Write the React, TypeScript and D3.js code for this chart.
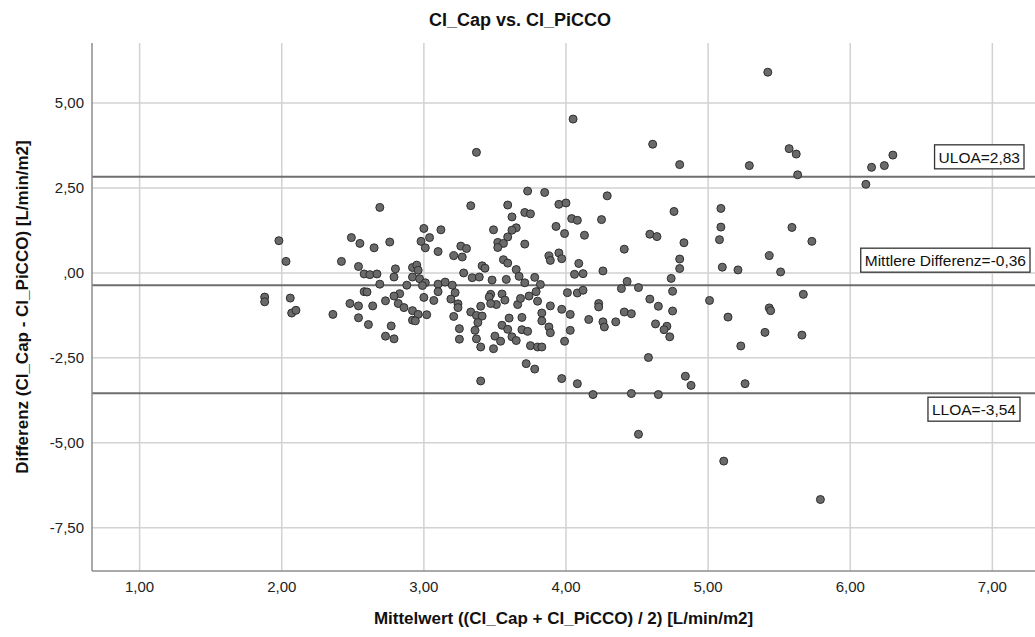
import { useEffect, useRef } from "react";
import * as d3 from "d3";

// Bland-Altman: Mittelwert (x) und Differenz (y)
const meanValues = [
  1.98, 2.03, 2.42, 1.88, 1.88, 2.06, 2.07, 2.10, 2.36,
  3.37, 2.69, 3.33, 3.73, 3.85, 3.59, 3.95, 4.00, 3.62, 3.71, 3.75, 4.04, 4.08, 3.65, 3.62, 3.93,
  3.99, 3.49, 3.59, 3.52, 3.56, 3.52, 3.71, 3.00, 3.12, 3.04, 2.98, 3.01, 3.10, 2.49, 2.55, 2.65,
  2.76, 2.54, 2.58, 2.62, 2.67, 2.69, 2.80, 2.79, 2.92, 2.95, 2.96, 2.92, 2.97, 3.01, 2.99, 2.88,
  3.26, 3.30, 3.21, 3.27, 3.41, 3.43, 3.28, 3.34, 3.39, 3.48, 3.58, 3.56, 3.59, 3.65, 3.67, 3.71,
  3.78, 3.82, 3.88, 3.89, 3.95, 3.97, 4.06, 4.08, 4.01, 4.09, 3.10, 3.15, 3.20, 3.10, 3.22, 3.19,
  3.07, 3.00, 3.24, 3.24, 3.21, 2.83, 2.79, 2.73, 2.82, 2.86, 2.92, 2.96, 3.02, 2.92, 2.94, 2.58,
  2.60, 2.48, 2.54, 2.64, 2.54, 2.61, 2.77, 2.73, 2.79, 3.40, 3.47, 3.46, 3.55, 3.57, 3.51, 3.47,
  3.66, 3.68, 3.74, 3.79, 3.80, 3.33, 3.37, 3.41, 3.38, 3.36, 3.37, 3.40, 3.25, 3.25, 3.49, 3.50,
  3.54, 3.55, 3.60, 3.69, 3.59, 3.62, 3.65, 3.69, 3.73, 3.75, 3.80, 3.83, 3.83, 3.83, 3.88, 3.89,
  3.89, 3.97, 4.03, 4.03, 3.99, 3.72, 3.78, 3.40, 3.97, 4.08,
  5.42, 4.05, 4.61, 4.80, 5.29, 5.57, 5.62, 5.63, 4.29, 4.25, 4.76, 4.13, 4.59, 4.64, 4.83, 5.09,
  5.09, 5.08, 5.59, 5.73, 5.43, 5.51, 5.21, 5.10, 4.41, 4.26, 4.12, 4.80, 4.80, 4.74, 4.43, 4.39,
  4.51, 4.75, 4.12, 4.59, 4.65, 5.01, 5.14, 5.67, 5.43, 5.44, 4.23, 4.23, 4.16, 4.26, 4.27, 4.35,
  4.41, 4.46, 4.63, 4.71, 4.69, 4.73, 4.75, 5.40, 5.66, 5.23, 4.58, 4.19, 4.46, 4.65, 4.84, 4.88,
  5.26, 4.51, 5.11, 5.79, 6.11, 6.15, 6.24, 6.30,
];

const diffValues = [
  0.95, 0.34, 0.34, -0.71, -0.85, -0.74, -1.18, -1.10, -1.22,
  3.55, 1.93, 1.98, 2.41, 2.37, 2.00, 2.02, 2.06, 1.65, 1.78, 1.74, 1.60, 1.55, 1.33, 1.26, 1.37,
  1.16, 1.27, 1.06, 0.90, 0.87, 0.75, 0.85, 1.31, 1.27, 1.04, 0.93, 0.74, 0.63, 1.04, 0.87, 0.74,
  0.91, 0.19, -0.03, -0.05, -0.03, -0.33, 0.12, -0.12, 0.16, 0.23, 0.08, -0.12, -0.17, -0.29, -0.37, -0.36,
  0.79, 0.72, 0.51, 0.47, 0.21, 0.14, 0.00, -0.14, -0.12, -0.21, -0.19, 0.39, 0.29, 0.10, -0.10, -0.29,
  -0.13, -0.34, 0.50, 0.37, 0.59, 0.42, -0.04, -0.59, -0.58, 0.28, -0.33, -0.27, -0.36, -0.55, -0.58, -0.77,
  -0.81, -0.72, -0.91, -1.02, -1.28, -0.61, -0.68, -0.82, -0.90, -1.02, -1.11, -1.22, -1.23, -1.39, -1.41, -0.55,
  -0.56, -0.90, -0.97, -0.97, -1.32, -1.52, -1.56, -1.86, -1.94, -0.98, -0.63, -0.71, -0.62, -0.80, -0.93, -0.90,
  -0.93, -0.75, -0.68, -0.55, -0.83, -1.15, -1.25, -1.27, -1.46, -1.69, -1.94, -2.18, -1.64, -1.95, -2.23, -1.86,
  -2.01, -1.54, -1.33, -1.31, -1.66, -1.88, -1.99, -1.67, -1.72, -2.14, -2.18, -2.18, -1.18, -1.41, -1.59, -1.76,
  -0.97, -1.07, -1.22, -1.69, -2.01, -2.67, -2.83, -3.18, -3.11, -3.26,
  5.91, 4.53, 3.79, 3.19, 3.16, 3.66, 3.50, 2.89, 2.27, 1.57, 1.81, 1.11, 1.14, 1.07, 0.89, 1.90,
  1.35, 0.98, 1.34, 0.93, 0.51, 0.03, 0.09, 0.17, 0.70, 0.06, -0.02, 0.41, 0.13, -0.16, -0.25, -0.46,
  -0.43, -0.54, -0.51, -0.77, -0.98, -0.81, -1.30, -0.63, -1.03, -1.11, -0.90, -1.00, -1.37, -1.44, -1.59, -1.44,
  -1.15, -1.20, -1.50, -1.57, -1.67, -1.88, -1.12, -1.75, -1.83, -2.15, -2.49, -3.58, -3.55, -3.58, -3.04, -3.31,
  -3.26, -4.75, -5.54, -6.67, 2.61, 3.11, 3.16, 3.47,
];

const xTicks = [1, 2, 3, 4, 5, 6, 7];
const yTicks = [5, 2.5, 0, -2.5, -5, -7.5];

const refNames = ["ULOA=2,83", "Mittlere Differenz=-0,36", "LLOA=-3,54"];
const refValues = [2.83, -0.36, -3.54];

const FONT = "'Liberation Sans', Arial, sans-serif";

// SPSS-Stil: 2 Nachkommastellen, Komma, ",00" ohne fuehrende Null
const fmt = (v) => {
  const s = v.toFixed(2).replace(".", ",");
  return s === "0,00" ? ",00" : s;
};

export default function App() {
  const svgRef = useRef(null);

  useEffect(() => {
    document.body.style.margin = "0";
    const width = 1035;
    const height = 637;
    const svg = d3.select(svgRef.current);
    svg.selectAll("*").remove();
    svg.attr("width", width).attr("height", height);

    const left = 92;
    const right = 1035;
    const top = 43;
    const bottom = 571;

    const x = d3.scaleLinear().domain([0.665, 7.3]).range([left, right]);
    const y = d3.scaleLinear().domain([-8.775, 6.77]).range([bottom, top]);

    svg.append("rect").attr("width", width).attr("height", height).attr("fill", "#fff");

    // grid
    svg
      .append("g")
      .selectAll("line")
      .data(yTicks)
      .join("line")
      .attr("x1", left)
      .attr("x2", right)
      .attr("y1", (d) => y(d))
      .attr("y2", (d) => y(d))
      .attr("stroke", "#d2d2d2")
      .attr("stroke-width", 1.5);

    svg
      .append("g")
      .selectAll("line")
      .data(xTicks)
      .join("line")
      .attr("x1", (d) => x(d))
      .attr("x2", (d) => x(d))
      .attr("y1", top)
      .attr("y2", bottom)
      .attr("stroke", "#d2d2d2")
      .attr("stroke-width", 1.5);

    // Referenzlinien
    svg
      .append("g")
      .selectAll("line")
      .data(refValues)
      .join("line")
      .attr("x1", left)
      .attr("x2", right)
      .attr("y1", (d) => y(d))
      .attr("y2", (d) => y(d))
      .attr("stroke", "#6e6e6e")
      .attr("stroke-width", 2);

    // axes
    svg
      .append("line")
      .attr("x1", left)
      .attr("x2", left)
      .attr("y1", top)
      .attr("y2", bottom)
      .attr("stroke", "#8c8c8c")
      .attr("stroke-width", 1.5);
    svg
      .append("line")
      .attr("x1", left)
      .attr("x2", right)
      .attr("y1", bottom)
      .attr("y2", bottom)
      .attr("stroke", "#8c8c8c")
      .attr("stroke-width", 1.5);

    svg
      .append("g")
      .selectAll("text")
      .data(yTicks)
      .join("text")
      .attr("x", left - 8)
      .attr("y", (d) => y(d))
      .attr("dy", "0.35em")
      .attr("text-anchor", "end")
      .style("font-family", FONT)
      .attr("font-size", 15)
      .attr("fill", "#222")
      .text(fmt);

    svg
      .append("g")
      .selectAll("text")
      .data(xTicks)
      .join("text")
      .attr("x", (d) => x(d))
      .attr("y", 592)
      .attr("text-anchor", "middle")
      .style("font-family", FONT)
      .attr("font-size", 15)
      .attr("fill", "#222")
      .text(fmt);

    // Punkte
    const pts = meanValues.map((m, i) => ({ m, d: diffValues[i] }));
    svg
      .append("g")
      .selectAll("circle")
      .data(pts)
      .join("circle")
      .attr("cx", (p) => x(p.m))
      .attr("cy", (p) => y(p.d))
      .attr("r", 4)
      .attr("fill", "#6a6a6a")
      .attr("stroke", "#2e2e2e")
      .attr("stroke-width", 1);

    // Beschriftungen der Referenzlinien
    const boxRight = [1024, 1030, 1020];
    const boxOffset = [-32, -37, 4];
    refNames.forEach((name, i) => {
      const g = svg.append("g");
      const txt = g
        .append("text")
        .style("font-family", FONT)
        .attr("font-size", 15.5)
        .attr("fill", "#111")
        .text(name);
      const w = txt.node().getComputedTextLength() + 8;
      const bx = boxRight[i] - w;
      const by = y(refValues[i]) + boxOffset[i];
      g.insert("rect", "text")
        .attr("x", bx)
        .attr("y", by)
        .attr("width", w)
        .attr("height", 24)
        .attr("fill", "#fff")
        .attr("stroke", "#333")
        .attr("stroke-width", 1.3);
      txt.attr("x", bx + 4).attr("y", by + 18);
    });

    // Titel
    svg
      .append("text")
      .attr("x", 520)
      .attr("y", 26)
      .attr("text-anchor", "middle")
      .style("font-family", FONT)
      .attr("font-size", 18)
      .attr("font-weight", "bold")
      .attr("fill", "#111")
      .text("CI_Cap vs. CI_PiCCO");

    svg
      .append("text")
      .attr("x", (left + right) / 2)
      .attr("y", 624)
      .attr("text-anchor", "middle")
      .style("font-family", FONT)
      .attr("font-size", 17)
      .attr("font-weight", "bold")
      .attr("fill", "#111")
      .text("Mittelwert ((CI_Cap + CI_PiCCO) / 2) [L/min/m2]");

    svg
      .append("text")
      .attr("transform", `translate(28, ${(top + bottom) / 2}) rotate(-90)`)
      .attr("text-anchor", "middle")
      .style("font-family", FONT)
      .attr("font-size", 17)
      .attr("font-weight", "bold")
      .attr("fill", "#111")
      .text("Differenz (CI_Cap - CI_PiCCO) [L/min/m2]");
  }, []);

  return <svg ref={svgRef} style={{ display: "block" }} />;
}
